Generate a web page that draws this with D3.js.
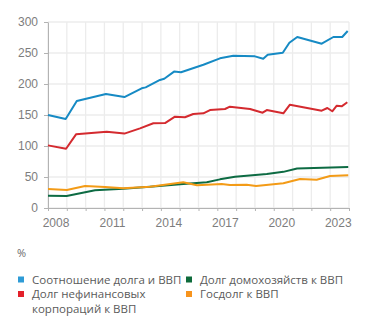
<!DOCTYPE html>
<html>
<head>
<meta charset="utf-8">
<script src="https://cdn.jsdelivr.net/npm/d3@7"></script>
<style>
  body { margin: 0; background: #fff; }
  svg { display: block; font-family: "Open Sans", sans-serif; }
  .grid line { stroke: #ececec; stroke-width: 1.3; }
  .axis text { fill: #7d7d7d; font-size: 12px; }
  .axis path, .axis line { stroke: #b3b3b3; }
  .legend text { fill: #5a5a5a; font-size: 11.5px; }
</style>
</head>
<body>
<svg width="371" height="329"></svg>
<script>
// values (x = fractional year, y = % of GDP)
const totalDates  = [2008.0, 2008.94, 2009.53, 2011.08, 2012.06, 2012.98, 2013.19, 2013.95, 2014.18, 2014.70, 2015.07, 2016.26, 2017.14, 2017.85, 2019.0, 2019.44, 2019.68, 2020.48, 2020.83, 2021.25, 2022.55, 2023.17, 2023.64, 2023.93];
const totalValues = [150, 143.5, 172.5, 184, 179, 193, 194.6, 206.5, 208.5, 220, 219, 231, 241.4, 245.6, 244.6, 240.8, 247.3, 250.5, 266.6, 275.8, 265, 275.8, 275.8, 285.5];

const corpDates  = [2008.0, 2008.96, 2009.49, 2011.12, 2012.06, 2012.89, 2013.6, 2014.22, 2014.75, 2015.28, 2015.72, 2016.26, 2016.61, 2017.41, 2017.67, 2018.74, 2019.41, 2019.63, 2020.51, 2020.86, 2022.55, 2022.85, 2023.11, 2023.35, 2023.61, 2023.91];
const corpValues = [101, 95.6, 118.8, 123, 120, 128.5, 136.6, 137, 147.3, 146.3, 151.6, 152.7, 158, 159.7, 163.4, 159.7, 153.7, 158, 152.7, 166.6, 157, 161.3, 156, 165, 164, 170.5];

const houseDates  = [2008.0, 2008.99, 2010.5, 2012.0, 2013.42, 2015.19, 2016.44, 2017.14, 2017.94, 2019.63, 2020.51, 2021.24, 2023.96];
const houseValues = [19.9, 19.4, 28.5, 31.2, 34.4, 38.7, 41.5, 46.2, 50.5, 54.8, 58.3, 63.7, 66];

const govDates  = [2008.0, 2009.0, 2009.97, 2011.03, 2012.0, 2013.42, 2015.19, 2015.92, 2017.23, 2017.67, 2018.56, 2019.06, 2020.51, 2021.4, 2022.28, 2022.99, 2023.96];
const govValues = [30.8, 29, 35.5, 34, 31.7, 34.4, 41.4, 36.8, 38.7, 37, 37.6, 35.5, 39.8, 46.8, 45.7, 51.5, 52.7];

const yTicks = [0, 50, 100, 150, 200, 250, 300];
const gridYears = d3.range(2008, 2025);
const labelYears = [2008, 2011, 2014, 2017, 2020, 2023];

const seriesNames = ["Соотношение долга и ВВП", "Долг нефинансовых корпораций к ВВП", "Долг домохозяйств к ВВП", "Госдолг к ВВП"];
const lineColors = ["#168ac4", "#d42a2f", "#0d6b43", "#f39b17"];
const swatchColors = ["#2e9bd6", "#e3202a", "#0e6b3b", "#f7941d"];

const series = [
  {dates: totalDates, values: totalValues},
  {dates: corpDates, values: corpValues},
  {dates: houseDates, values: houseValues},
  {dates: govDates, values: govValues}
];

const svg = d3.select("svg");

const x = d3.scaleLinear().domain([2008, 2024]).range([48, 349]);
const y = d3.scaleLinear().domain([0, 300]).range([208, 22]);

// grid
const grid = svg.append("g").attr("class", "grid");
grid.selectAll(".h").data(yTicks).enter().append("line")
    .attr("x1", x(2008)).attr("x2", x(2024))
    .attr("y1", d => y(d)).attr("y2", d => y(d));
grid.selectAll(".v").data(gridYears).enter().append("line")
    .attr("x1", d => x(d)).attr("x2", d => x(d))
    .attr("y1", y(300)).attr("y2", y(0));

// y axis
svg.append("g").attr("class", "axis")
    .attr("transform", "translate(" + x(2008) + ",0)")
    .call(d3.axisLeft(y).tickValues(yTicks).tickSize(4).tickPadding(6).tickSizeOuter(0));

// x axis: ticks every year, labels every 3 years
svg.append("g").attr("class", "axis")
    .attr("transform", "translate(0," + y(0) + ")")
    .call(d3.axisBottom(x).tickValues(gridYears).tickSize(3).tickSizeOuter(0).tickFormat(""));

const labelShift = x(2008.4) - x(2008);
const xLabels = svg.append("g").attr("class", "axis")
    .attr("transform", "translate(0," + y(0) + ")")
    .call(d3.axisBottom(x).tickValues(labelYears).tickSize(0).tickPadding(10).tickFormat(d3.format("d")));
xLabels.select(".domain").remove();
xLabels.selectAll("text").attr("dx", labelShift);

// lines
const line = d3.line()
    .x(d => x(d[0]))
    .y(d => y(d[1]));

svg.selectAll(".series").data(series).enter().append("path")
    .attr("class", "series")
    .attr("fill", "none")
    .attr("stroke", (d, i) => lineColors[i])
    .attr("stroke-width", 2)
    .attr("stroke-linejoin", "round")
    .attr("d", d => line(d.dates.map((t, i) => [t, d.values[i]])));

// unit
svg.append("text")
    .attr("x", 17).attr("y", 257)
    .attr("fill", "#6a6a6a")
    .style("font-size", "11px")
    .text("%");

// legend
const legendPos = [
  {x: 18, y: 279.5, lines: ["Соотношение долга и ВВП"]},
  {x: 18, y: 294, lines: ["Долг нефинансовых", "корпораций к ВВП"]},
  {x: 186, y: 279.5, lines: ["Долг домохозяйств к ВВП"]},
  {x: 186, y: 294, lines: ["Госдолг к ВВП"]}
];

const legend = svg.append("g").attr("class", "legend");
legendPos.forEach((p, i) => {
  legend.append("rect")
      .attr("x", p.x).attr("y", p.y - 3)
      .attr("width", 6).attr("height", 6)
      .attr("fill", swatchColors[i]);
  p.lines.forEach((s, j) => {
    legend.append("text")
        .attr("x", p.x + 14).attr("y", p.y + 4 + j * 14.5)
        .text(s);
  });
});
</script>
</body>
</html>
